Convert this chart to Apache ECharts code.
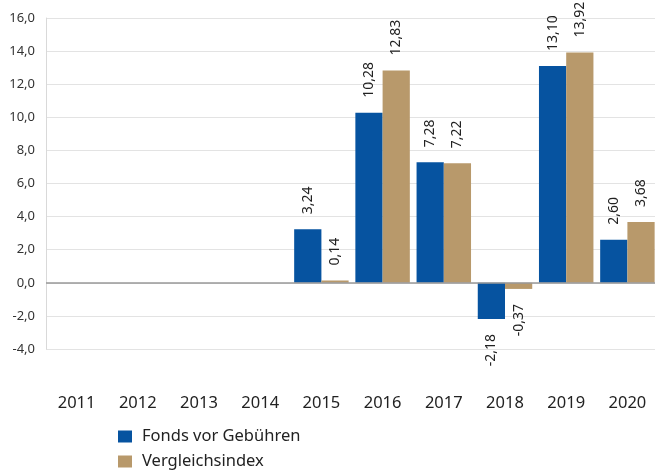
<!DOCTYPE html>
<html>
<head>
<meta charset="utf-8">
<script src="https://cdn.jsdelivr.net/npm/echarts@6/dist/echarts.min.js"></script>
<style>
  html, body { margin: 0; padding: 0; background: #fff; }
  #main { width: 655px; height: 472px; }
</style>
</head>
<body>
<div id="main"></div>
<script>
const years = ['2011', '2012', '2013', '2014', '2015', '2016', '2017', '2018', '2019', '2020'];
const fonds = [null, null, null, null, 3.24, 10.28, 7.28, -2.18, 13.10, 2.60];
const vergleich = [null, null, null, null, 0.14, 12.83, 7.22, -0.37, 13.92, 3.68];
const yTicks = { min: -4, max: 16, interval: 2 };

const fontFam = '"Noto Sans", sans-serif';
const fmt = v => v.toFixed(2).replace('.', ',');

// positive values: label above bar, negative: below, text rotated
function withLabels(arr) {
	return arr.map(v => {
		if (v === null) return null;
		const neg = v < 0;
		return {
			value: v,
			label: {
				show: true,
				position: neg ? 'bottom' : 'top',
				rotate: 90,
				align: neg ? 'right' : 'left',
				verticalAlign: 'middle',
				distance: 15,
				formatter: () => fmt(v),
				color: '#222',
				fontSize: 14,
				fontFamily: fontFam
			}
		};
	});
}

const legendText = { fontSize: 16.5, color: '#222', fontFamily: fontFam, padding: [0, 0, 0, 5] };

const chart = echarts.init(document.getElementById('main'));
chart.setOption({
	animation: false,
	textStyle: { fontFamily: fontFam },
	grid: { left: 46, right: -3, top: 18, bottom: 123, containLabel: false, outerBoundsMode: 'none' },
	legend: [
		{
			left: 118, top: 428, padding: 0,
			itemWidth: 14, itemHeight: 12, icon: 'rect',
			textStyle: legendText,
			data: ['Fonds vor Gebühren']
		},
		{
			left: 118, top: 453, padding: 0,
			itemWidth: 14, itemHeight: 12, icon: 'rect',
			textStyle: legendText,
			data: ['Vergleichsindex']
		}
	],
	xAxis: {
		type: 'category',
		data: years,
		axisLine: { show: false, onZero: false },
		axisTick: { show: false },
		axisLabel: { margin: 46, fontSize: 16.5, color: '#222', fontFamily: fontFam }
	},
	yAxis: {
		type: 'value',
		min: yTicks.min,
		max: yTicks.max,
		interval: yTicks.interval,
		name: '%',
		nameLocation: 'middle',
		nameRotate: 90,
		nameGap: 35,
		nameTextStyle: { fontSize: 13, color: '#333' },
		axisLine: { show: true, lineStyle: { color: '#d9d9d9' } },
		axisTick: { show: false },
		axisLabel: {
			fontSize: 13, color: '#333', margin: 11,
			formatter: v => v.toFixed(1).replace('.', ',')
		},
		splitLine: { lineStyle: { color: '#e3e3e3' } }
	},
	series: [
		{
			name: 'Fonds vor Gebühren',
			type: 'bar',
			data: withLabels(fonds),
			itemStyle: { color: '#0653a0' },
			barGap: '0%',
			barCategoryGap: '11%',
			markLine: {
				silent: true,
				symbol: 'none',
				label: { show: false },
				lineStyle: { color: '#999', type: 'solid', width: 1.5 },
				data: [{ yAxis: 0 }]
			}
		},
		{
			name: 'Vergleichsindex',
			type: 'bar',
			data: withLabels(vergleich),
			itemStyle: { color: '#b8996b' },
			barGap: '0%',
			barCategoryGap: '11%'
		}
	]
});
</script>
</body>
</html>
